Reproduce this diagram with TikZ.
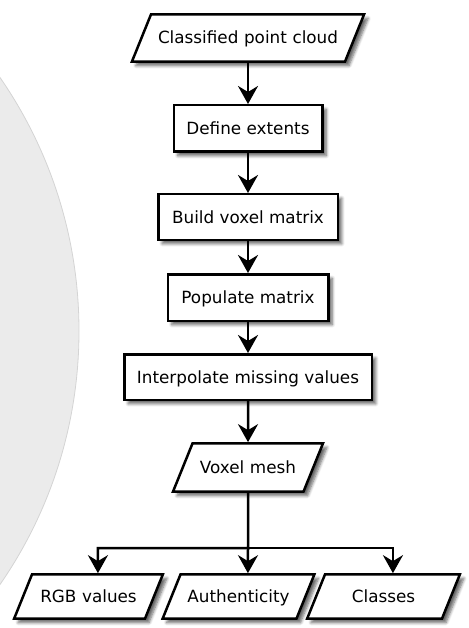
\documentclass[tikz,border=0pt]{standalone}
\usepackage{fontspec}
\setmainfont{DejaVu Sans}
\usetikzlibrary{shapes.geometric,arrows.meta,shadows.blur}

\tikzset{
  shade/.style={blur shadow={shadow xshift=4pt, shadow yshift=-4pt, shadow blur steps=6, shadow blur radius=3pt, shadow opacity=60}},
  box/.style={draw, line width=2.5pt, fill=white, rectangle, inner sep=0pt, text height=12pt, text depth=0pt, font=\fontsize{16.8pt}{19pt}\selectfont, shade},
  data/.style={draw, line width=2.5pt, fill=white, trapezium, trapezium left angle=68, trapezium right angle=112, inner xsep=0pt, align=center, text height=12pt, text depth=0pt, font=\fontsize{16.8pt}{19pt}\selectfont, shade},
  arrow/.style={line width=2.5pt, -{Stealth[length=18pt,width=20pt,inset=6pt]}}
}

\begin{document}
\begin{tikzpicture}[x=1pt,y=-1pt]
\useasboundingbox (0,0) rectangle (468,628);
\begin{scope}
\clip (0,0) rectangle (468,628);
\filldraw [fill={rgb,255:red,235;green,235;blue,235}, draw={rgb,255:red,212;green,212;blue,212}, line width=0.8pt] (-367,331) circle [radius=446pt];
\end{scope}

\node [data, text width=194pt, inner ysep=17.6pt] (cloud) at (248,38) {Classified point cloud};
\node [box, minimum width=148.5pt, minimum height=46.5pt] (extents) at (248,128.5) {Define extents};
\node [box, minimum width=179.5pt, minimum height=45.5pt] (build) at (248,217) {Build voxel matrix};
\node [box, minimum width=160.5pt, minimum height=46.5pt] (populate) at (248,297.5) {Populate matrix};
\node [box, minimum width=247.5pt, minimum height=45.5pt] (interp) at (248,377) {Interpolate missing values};
\node [data, text width=111pt, inner ysep=18.1pt] (mesh) at (248,467.5) {Voxel mesh};
\node [data, text width=113pt, inner ysep=16.1pt] (rgb) at (88.5,596.5) {RGB values};
\node [data, text width=116pt, inner ysep=16.1pt] (auth) at (238.5,596.5) {Authenticity};
\node [data, text width=117pt, inner ysep=16.1pt] (classes) at (383.5,596.5) {Classes};
\coordinate (fork) at (248,548);

\draw [arrow] (cloud) -- (extents);
\draw [arrow] (extents) -- (build);
\draw [arrow] (build) -- (populate);
\draw [arrow] (populate) -- (interp);
\draw [arrow] (interp) -- (mesh);
\draw [arrow] (mesh.south) -- (fork) -| (rgb.top side);
\draw [arrow] (fork) -- (auth.top side);
\draw [arrow] (fork) -| (classes.top side);

\end{tikzpicture}
\end{document}
